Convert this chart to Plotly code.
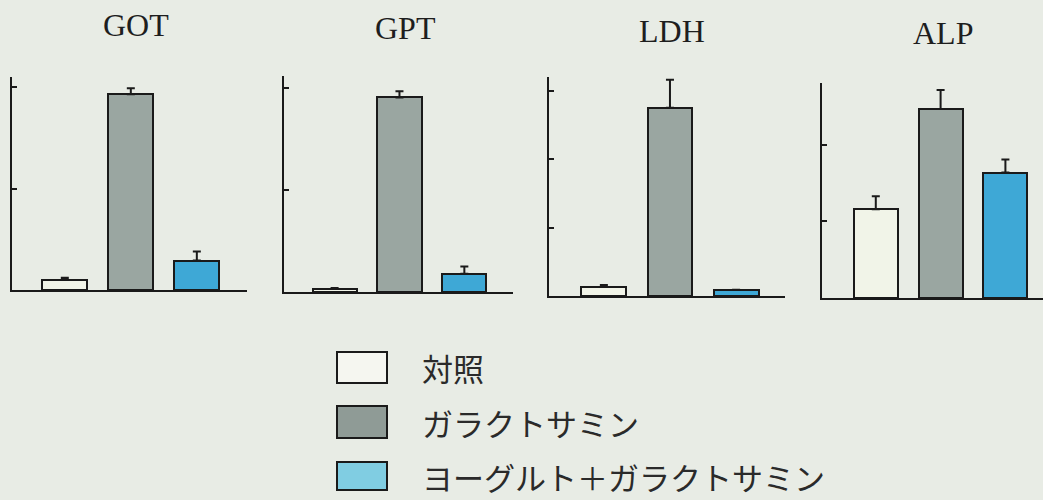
import plotly.graph_objects as go

# Serum enzyme levels per group (relative units), with SD error bars
panels = ["GOT", "GPT", "LDH", "ALP"]
groups = ["対照", "ガラクトサミン", "ヨーグルト＋ガラクトサミン"]

control = [0.10, 0.03, 0.13, 1.16]
control_err = [0.02, 0.01, 0.03, 0.17]
galactosamine = [1.93, 1.91, 2.75, 2.47]
galactosamine_err = [0.06, 0.06, 0.41, 0.25]
yogurt_gal = [0.29, 0.18, 0.09, 1.64]
yogurt_gal_err = [0.09, 0.07, 0.0, 0.17]

series_values = [control, galactosamine, yogurt_gal]
series_errors = [control_err, galactosamine_err, yogurt_gal_err]
bar_colors = ["#f1f4e8", "#9aa6a1", "#3ea8d6"]
legend_colors = ["#f5f6f0", "#8f9b96", "#80cde2"]

W, H = 1043, 500
BG = "#e8ece5"

# Pixel frames for each panel: (left, right, top, bottom), y-range top, x-range
frames = [
    (12, 247, 77, 290, 2.10, (-0.80, 2.76)),
    (284, 513, 76, 292, 2.12, (-0.78, 2.75)),
    (549, 785, 77, 296, 3.20, (-0.83, 2.74)),
    (822, 1043, 83, 298, 2.81, (-0.83, 2.58)),
]
title_pos = [(136, 25), (405, 28), (672, 31), (943, 33)]

fig = go.Figure()
for p, name in enumerate(panels):
    idx = "" if p == 0 else str(p + 1)
    fig.add_trace(go.Bar(
        x=[0, 1, 2],
        y=[s[p] for s in series_values],
        width=0.68,
        marker=dict(color=bar_colors, line=dict(color="#1a1a1a", width=2)),
        error_y=dict(type="data", array=[e[p] for e in series_errors],
                     symmetric=False, arrayminus=[0, 0, 0],
                     color="#1a1a1a", thickness=2, width=4),
        xaxis="x" + idx, yaxis="y" + idx, showlegend=False, hoverinfo="skip",
    ))
    l, r, t, b, ytop, xr = frames[p]
    fig.layout["xaxis" + idx] = dict(
        domain=[l / W, r / W], range=list(xr), anchor="y" + idx,
        showline=True, linecolor="#1a1a1a", linewidth=2,
        showticklabels=False, ticks="", showgrid=False, zeroline=False,
        fixedrange=True,
    )
    fig.layout["yaxis" + idx] = dict(
        domain=[1 - b / H, 1 - t / H], range=[0, ytop], anchor="x" + idx,
        showline=True, linecolor="#1a1a1a", linewidth=2,
        showticklabels=False, ticks="inside", ticklen=5, tickwidth=1.5,
        tickcolor="#1a1a1a", dtick=1, tick0=0, showgrid=False,
        zeroline=False, fixedrange=True,
    )
    tx, ty = title_pos[p]
    fig.add_annotation(
        text=name, x=tx / W, y=1 - ty / H, xref="paper", yref="paper",
        showarrow=False, xanchor="center", yanchor="middle",
        font=dict(family="Liberation Serif, Times New Roman, serif",
                  size=32, color="#1e1e1e"),
    )

# Legend swatches and labels
legend_rows = [(352, 383), (406, 438), (462, 490)]
for g, label in enumerate(groups):
    top, bot = legend_rows[g]
    fig.add_shape(
        type="rect", xref="paper", yref="paper",
        x0=337 / W, x1=387 / W, y0=1 - bot / H, y1=1 - top / H,
        fillcolor=legend_colors[g], line=dict(color="#1a1a1a", width=2),
    )
    fig.add_annotation(
        text=label, x=420 / W, y=1 - ((top + bot) / 2) / H,
        xref="paper", yref="paper", showarrow=False,
        xanchor="left", yanchor="middle",
        font=dict(family="Noto Sans CJK JP", size=31, color="#2a2a2a"),
    )

fig.update_layout(
    width=W, height=H, margin=dict(l=0, r=0, t=0, b=0),
    paper_bgcolor=BG, plot_bgcolor=BG, bargap=0,
)

fig.write_html("out.html", config={"displayModeBar": False})
